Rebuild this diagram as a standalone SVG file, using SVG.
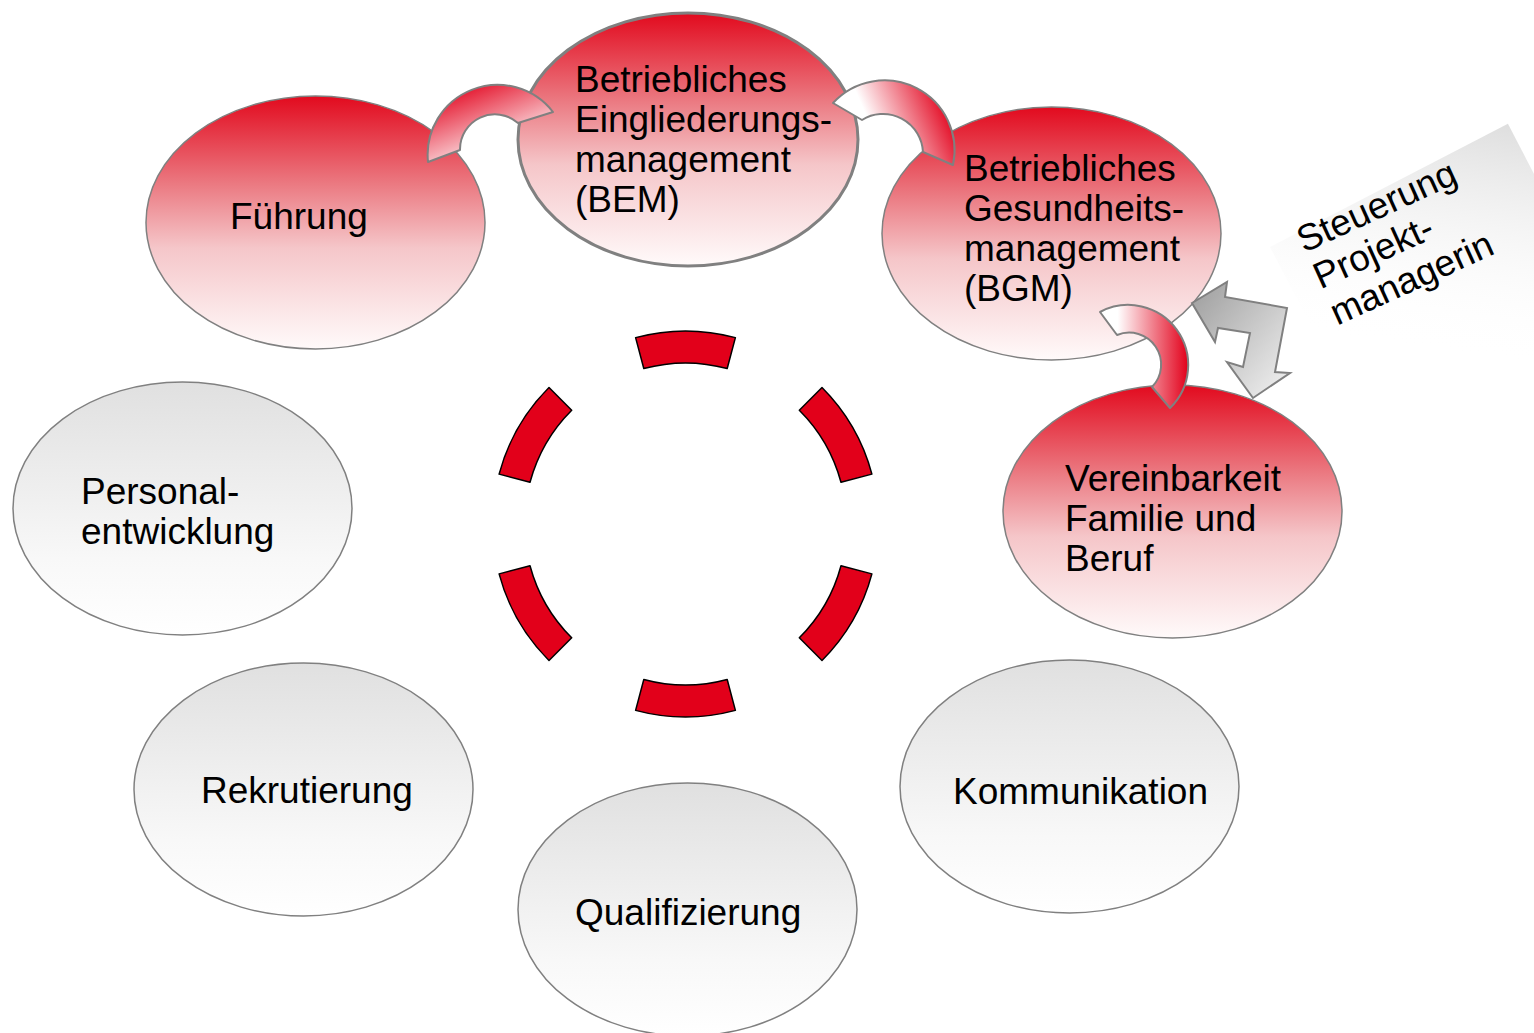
<svg xmlns="http://www.w3.org/2000/svg" width="1534" height="1033" viewBox="0 0 1534 1033">
  <defs>
    <linearGradient id="gRed" x1="0" y1="0" x2="0" y2="1">
      <stop offset="0" stop-color="#E20A1E"/>
      <stop offset="0.35" stop-color="#EB7A82"/>
      <stop offset="0.6" stop-color="#F5C6C9"/>
      <stop offset="1" stop-color="#FFFAFA"/>
    </linearGradient>
    <linearGradient id="gGrey" x1="0" y1="0" x2="0" y2="1">
      <stop offset="0" stop-color="#E0E0E0"/>
      <stop offset="0.7" stop-color="#F8F8F8"/>
      <stop offset="1" stop-color="#FFFFFF"/>
    </linearGradient>
    <linearGradient id="gArc1" x1="0.2" y1="0" x2="0.75" y2="0.85">
      <stop offset="0" stop-color="#E2001A"/>
      <stop offset="1" stop-color="#FFFFFF"/>
    </linearGradient>
    <linearGradient id="gArc2" x1="0.95" y1="0.3" x2="0.3" y2="0.5">
      <stop offset="0" stop-color="#E2001A"/>
      <stop offset="1" stop-color="#FFFFFF"/>
    </linearGradient>
    <linearGradient id="gArc3" x1="1" y1="0.4" x2="0.2" y2="0.4">
      <stop offset="0" stop-color="#E2001A"/>
      <stop offset="1" stop-color="#FFFFFF"/>
    </linearGradient>
    <linearGradient id="gArrow" x1="0" y1="0" x2="1" y2="1">
      <stop offset="0" stop-color="#9C9C9C"/>
      <stop offset="1" stop-color="#F4F4F4"/>
    </linearGradient>
    <linearGradient id="gLabel" x1="1" y1="0" x2="0.35" y2="0.75">
      <stop offset="0" stop-color="#DEDEDE"/>
      <stop offset="1" stop-color="#FFFFFF" stop-opacity="0"/>
    </linearGradient>
  </defs>
  <style>
    .node { stroke: #808080; stroke-width: 1.5; }
    .red { fill: url(#gRed); }
    .grey { fill: url(#gGrey); }
    .sel { stroke-width: 3; }
    .lbl { font-family: "Liberation Sans", Arial, sans-serif; font-size: 37px; fill: #000000; }
    .arc { stroke: #808080; stroke-width: 2; stroke-linejoin: round; }
    .seg { fill: #E2001A; stroke: #000000; stroke-width: 1.5; stroke-linejoin: round; }
  </style>

  <g id="label-steuerung">
    <rect x="0" y="0" width="268" height="220" fill="url(#gLabel)" transform="translate(1270,247) rotate(-27.4)"/>
    <text class="lbl" transform="translate(1304,253) rotate(-24.5)"><tspan x="0" y="0">Steuerung</tspan><tspan x="0" y="40">Projekt-</tspan><tspan x="0" y="80">managerin</tspan></text>
  </g>

  <g id="node-fuehrung">
    <ellipse class="node red" cx="315.5" cy="222.5" rx="169.5" ry="126.5"/>
    <text class="lbl" x="230" y="229">Führung</text>
  </g>
  <g id="node-bem">
    <ellipse class="node red sel" cx="688" cy="139.5" rx="170" ry="126.5"/>
    <text class="lbl"><tspan x="575" y="92">Betriebliches</tspan><tspan x="575" y="132">Eingliederungs-</tspan><tspan x="575" y="172">management</tspan><tspan x="575" y="212">(BEM)</tspan></text>
  </g>
  <g id="node-bgm">
    <ellipse class="node red" cx="1051.5" cy="233.5" rx="169.5" ry="126.5"/>
    <text class="lbl"><tspan x="964" y="181">Betriebliches</tspan><tspan x="964" y="221">Gesundheits-</tspan><tspan x="964" y="261">management</tspan><tspan x="964" y="301">(BGM)</tspan></text>
  </g>
  <g id="node-vereinbarkeit">
    <ellipse class="node red" cx="1172.5" cy="511.5" rx="169.5" ry="126.5"/>
    <text class="lbl"><tspan x="1065" y="491">Vereinbarkeit</tspan><tspan x="1065" y="531">Familie und</tspan><tspan x="1065" y="571">Beruf</tspan></text>
  </g>
  <g id="node-kommunikation">
    <ellipse class="node grey" cx="1069.5" cy="786.5" rx="169.5" ry="126.5"/>
    <text class="lbl" x="953" y="804">Kommunikation</text>
  </g>
  <g id="node-qualifizierung">
    <ellipse class="node grey" cx="687.5" cy="909.5" rx="169.5" ry="126.5"/>
    <text class="lbl" x="575" y="925">Qualifizierung</text>
  </g>
  <g id="node-rekrutierung">
    <ellipse class="node grey" cx="303.5" cy="789.5" rx="169.5" ry="126.5"/>
    <text class="lbl" x="201" y="803">Rekrutierung</text>
  </g>
  <g id="node-personalentwicklung">
    <ellipse class="node grey" cx="182.5" cy="508.5" rx="169.5" ry="126.5"/>
    <text class="lbl"><tspan x="81" y="504">Personal-</tspan><tspan x="81" y="544">entwicklung</tspan></text>
  </g>

  <g id="connectors">
    <path class="arc" fill="url(#gArc1)" d="M 428,162 A 70 70 0 0 1 553,112 L 518,123 A 35 35 0 0 0 460,150 Z"/>
    <path class="arc" fill="url(#gArc2)" d="M 833,103 A 70 70 0 0 1 953,165 L 923,152 A 40 40 0 0 0 862,120 Z"/>
    <path class="arc" fill="url(#gArc3)" d="M 1100,312 A 60 60 0 0 1 1170,408 L 1152,387 A 32 32 0 0 0 1117,335 Z"/>
    <path fill="url(#gArrow)" stroke="#808080" stroke-width="2" stroke-linejoin="miter" d="M 1192,303 L 1227,282 L 1225,297 L 1287,308 L 1275,372 L 1290,373 L 1253,398 L 1227,362 L 1243,367 L 1250,333 L 1218,328 L 1215,342 Z"/>
  </g>

  <g id="ring">
    <path class="seg" d="M 871.9,474.1 A 193 193 0 0 0 822,387.5 L 799.3,410.2 A 161 161 0 0 1 841,482.3 Z"/>
    <path class="seg" d="M 735.4,337.6 A 193 193 0 0 0 635.6,337.6 L 643.8,368.5 A 161 161 0 0 1 727.2,368.5 Z"/>
    <path class="seg" d="M 549,387.5 A 193 193 0 0 0 499.1,474.1 L 530,482.3 A 161 161 0 0 1 571.7,410.2 Z"/>
    <path class="seg" d="M 499.1,573.9 A 193 193 0 0 0 549,660.5 L 571.7,637.8 A 161 161 0 0 1 530,565.7 Z"/>
    <path class="seg" d="M 635.6,710.4 A 193 193 0 0 0 735.4,710.4 L 727.2,679.5 A 161 161 0 0 1 643.8,679.5 Z"/>
    <path class="seg" d="M 822,660.5 A 193 193 0 0 0 871.9,573.9 L 841,565.7 A 161 161 0 0 1 799.3,637.8 Z"/>
  </g>
</svg>
